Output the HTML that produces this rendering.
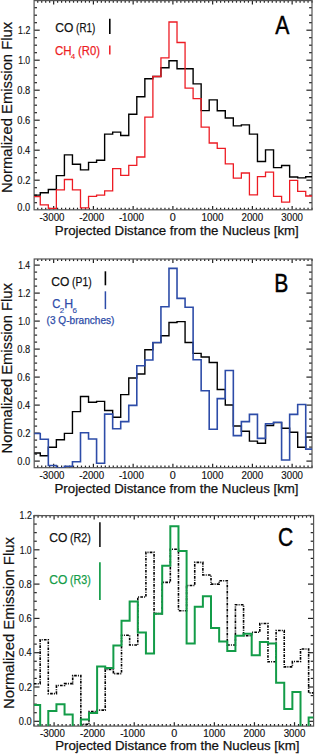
<!DOCTYPE html><html><head><meta charset="utf-8"><style>html,body{margin:0;padding:0;background:#fff;}svg{display:block;}text{font-family:"Liberation Sans", sans-serif;} .tk{stroke:#222;stroke-width:1.2;} .fr{fill:none;stroke:#555;stroke-width:1.2;}</style></head><body>
<svg width="315" height="754" viewBox="0 0 315 754">
<rect width="315" height="754" fill="#fff"/>
<clipPath id="clipA"><rect x="34.1" y="0.6" width="277.9" height="209.20000000000002"/></clipPath>
<line x1="34.1" y1="202.70" x2="37.0" y2="202.70" class="tk"/>
<line x1="312.0" y1="202.70" x2="309.1" y2="202.70" class="tk"/>
<line x1="34.1" y1="195.20" x2="37.0" y2="195.20" class="tk"/>
<line x1="312.0" y1="195.20" x2="309.1" y2="195.20" class="tk"/>
<line x1="34.1" y1="187.70" x2="37.0" y2="187.70" class="tk"/>
<line x1="312.0" y1="187.70" x2="309.1" y2="187.70" class="tk"/>
<line x1="34.1" y1="180.20" x2="39.7" y2="180.20" class="tk"/>
<line x1="312.0" y1="180.20" x2="306.4" y2="180.20" class="tk"/>
<line x1="34.1" y1="172.70" x2="37.0" y2="172.70" class="tk"/>
<line x1="312.0" y1="172.70" x2="309.1" y2="172.70" class="tk"/>
<line x1="34.1" y1="165.20" x2="37.0" y2="165.20" class="tk"/>
<line x1="312.0" y1="165.20" x2="309.1" y2="165.20" class="tk"/>
<line x1="34.1" y1="157.70" x2="37.0" y2="157.70" class="tk"/>
<line x1="312.0" y1="157.70" x2="309.1" y2="157.70" class="tk"/>
<line x1="34.1" y1="150.20" x2="39.7" y2="150.20" class="tk"/>
<line x1="312.0" y1="150.20" x2="306.4" y2="150.20" class="tk"/>
<line x1="34.1" y1="142.70" x2="37.0" y2="142.70" class="tk"/>
<line x1="312.0" y1="142.70" x2="309.1" y2="142.70" class="tk"/>
<line x1="34.1" y1="135.20" x2="37.0" y2="135.20" class="tk"/>
<line x1="312.0" y1="135.20" x2="309.1" y2="135.20" class="tk"/>
<line x1="34.1" y1="127.70" x2="37.0" y2="127.70" class="tk"/>
<line x1="312.0" y1="127.70" x2="309.1" y2="127.70" class="tk"/>
<line x1="34.1" y1="120.20" x2="39.7" y2="120.20" class="tk"/>
<line x1="312.0" y1="120.20" x2="306.4" y2="120.20" class="tk"/>
<line x1="34.1" y1="112.70" x2="37.0" y2="112.70" class="tk"/>
<line x1="312.0" y1="112.70" x2="309.1" y2="112.70" class="tk"/>
<line x1="34.1" y1="105.20" x2="37.0" y2="105.20" class="tk"/>
<line x1="312.0" y1="105.20" x2="309.1" y2="105.20" class="tk"/>
<line x1="34.1" y1="97.70" x2="37.0" y2="97.70" class="tk"/>
<line x1="312.0" y1="97.70" x2="309.1" y2="97.70" class="tk"/>
<line x1="34.1" y1="90.20" x2="39.7" y2="90.20" class="tk"/>
<line x1="312.0" y1="90.20" x2="306.4" y2="90.20" class="tk"/>
<line x1="34.1" y1="82.70" x2="37.0" y2="82.70" class="tk"/>
<line x1="312.0" y1="82.70" x2="309.1" y2="82.70" class="tk"/>
<line x1="34.1" y1="75.20" x2="37.0" y2="75.20" class="tk"/>
<line x1="312.0" y1="75.20" x2="309.1" y2="75.20" class="tk"/>
<line x1="34.1" y1="67.70" x2="37.0" y2="67.70" class="tk"/>
<line x1="312.0" y1="67.70" x2="309.1" y2="67.70" class="tk"/>
<line x1="34.1" y1="60.20" x2="39.7" y2="60.20" class="tk"/>
<line x1="312.0" y1="60.20" x2="306.4" y2="60.20" class="tk"/>
<line x1="34.1" y1="52.70" x2="37.0" y2="52.70" class="tk"/>
<line x1="312.0" y1="52.70" x2="309.1" y2="52.70" class="tk"/>
<line x1="34.1" y1="45.20" x2="37.0" y2="45.20" class="tk"/>
<line x1="312.0" y1="45.20" x2="309.1" y2="45.20" class="tk"/>
<line x1="34.1" y1="37.70" x2="37.0" y2="37.70" class="tk"/>
<line x1="312.0" y1="37.70" x2="309.1" y2="37.70" class="tk"/>
<line x1="34.1" y1="30.20" x2="39.7" y2="30.20" class="tk"/>
<line x1="312.0" y1="30.20" x2="306.4" y2="30.20" class="tk"/>
<line x1="34.1" y1="22.70" x2="37.0" y2="22.70" class="tk"/>
<line x1="312.0" y1="22.70" x2="309.1" y2="22.70" class="tk"/>
<line x1="34.1" y1="15.20" x2="37.0" y2="15.20" class="tk"/>
<line x1="312.0" y1="15.20" x2="309.1" y2="15.20" class="tk"/>
<line x1="34.1" y1="7.70" x2="37.0" y2="7.70" class="tk"/>
<line x1="312.0" y1="7.70" x2="309.1" y2="7.70" class="tk"/>
<line x1="37.75" y1="209.8" x2="37.75" y2="207.70000000000002" class="tk"/>
<line x1="37.75" y1="0.6" x2="37.75" y2="2.7" class="tk"/>
<line x1="41.72" y1="209.8" x2="41.72" y2="207.70000000000002" class="tk"/>
<line x1="41.72" y1="0.6" x2="41.72" y2="2.7" class="tk"/>
<line x1="45.70" y1="209.8" x2="45.70" y2="207.70000000000002" class="tk"/>
<line x1="45.70" y1="0.6" x2="45.70" y2="2.7" class="tk"/>
<line x1="49.67" y1="209.8" x2="49.67" y2="207.70000000000002" class="tk"/>
<line x1="49.67" y1="0.6" x2="49.67" y2="2.7" class="tk"/>
<line x1="53.65" y1="209.8" x2="53.65" y2="205.9" class="tk"/>
<line x1="53.65" y1="0.6" x2="53.65" y2="4.5" class="tk"/>
<line x1="57.62" y1="209.8" x2="57.62" y2="207.70000000000002" class="tk"/>
<line x1="57.62" y1="0.6" x2="57.62" y2="2.7" class="tk"/>
<line x1="61.60" y1="209.8" x2="61.60" y2="207.70000000000002" class="tk"/>
<line x1="61.60" y1="0.6" x2="61.60" y2="2.7" class="tk"/>
<line x1="65.58" y1="209.8" x2="65.58" y2="207.70000000000002" class="tk"/>
<line x1="65.58" y1="0.6" x2="65.58" y2="2.7" class="tk"/>
<line x1="69.55" y1="209.8" x2="69.55" y2="207.70000000000002" class="tk"/>
<line x1="69.55" y1="0.6" x2="69.55" y2="2.7" class="tk"/>
<line x1="73.53" y1="209.8" x2="73.53" y2="207.70000000000002" class="tk"/>
<line x1="73.53" y1="0.6" x2="73.53" y2="2.7" class="tk"/>
<line x1="77.50" y1="209.8" x2="77.50" y2="207.70000000000002" class="tk"/>
<line x1="77.50" y1="0.6" x2="77.50" y2="2.7" class="tk"/>
<line x1="81.48" y1="209.8" x2="81.48" y2="207.70000000000002" class="tk"/>
<line x1="81.48" y1="0.6" x2="81.48" y2="2.7" class="tk"/>
<line x1="85.45" y1="209.8" x2="85.45" y2="207.70000000000002" class="tk"/>
<line x1="85.45" y1="0.6" x2="85.45" y2="2.7" class="tk"/>
<line x1="89.43" y1="209.8" x2="89.43" y2="207.70000000000002" class="tk"/>
<line x1="89.43" y1="0.6" x2="89.43" y2="2.7" class="tk"/>
<line x1="93.40" y1="209.8" x2="93.40" y2="205.9" class="tk"/>
<line x1="93.40" y1="0.6" x2="93.40" y2="4.5" class="tk"/>
<line x1="97.38" y1="209.8" x2="97.38" y2="207.70000000000002" class="tk"/>
<line x1="97.38" y1="0.6" x2="97.38" y2="2.7" class="tk"/>
<line x1="101.35" y1="209.8" x2="101.35" y2="207.70000000000002" class="tk"/>
<line x1="101.35" y1="0.6" x2="101.35" y2="2.7" class="tk"/>
<line x1="105.33" y1="209.8" x2="105.33" y2="207.70000000000002" class="tk"/>
<line x1="105.33" y1="0.6" x2="105.33" y2="2.7" class="tk"/>
<line x1="109.30" y1="209.8" x2="109.30" y2="207.70000000000002" class="tk"/>
<line x1="109.30" y1="0.6" x2="109.30" y2="2.7" class="tk"/>
<line x1="113.28" y1="209.8" x2="113.28" y2="207.70000000000002" class="tk"/>
<line x1="113.28" y1="0.6" x2="113.28" y2="2.7" class="tk"/>
<line x1="117.25" y1="209.8" x2="117.25" y2="207.70000000000002" class="tk"/>
<line x1="117.25" y1="0.6" x2="117.25" y2="2.7" class="tk"/>
<line x1="121.22" y1="209.8" x2="121.22" y2="207.70000000000002" class="tk"/>
<line x1="121.22" y1="0.6" x2="121.22" y2="2.7" class="tk"/>
<line x1="125.20" y1="209.8" x2="125.20" y2="207.70000000000002" class="tk"/>
<line x1="125.20" y1="0.6" x2="125.20" y2="2.7" class="tk"/>
<line x1="129.18" y1="209.8" x2="129.18" y2="207.70000000000002" class="tk"/>
<line x1="129.18" y1="0.6" x2="129.18" y2="2.7" class="tk"/>
<line x1="133.15" y1="209.8" x2="133.15" y2="205.9" class="tk"/>
<line x1="133.15" y1="0.6" x2="133.15" y2="4.5" class="tk"/>
<line x1="137.12" y1="209.8" x2="137.12" y2="207.70000000000002" class="tk"/>
<line x1="137.12" y1="0.6" x2="137.12" y2="2.7" class="tk"/>
<line x1="141.10" y1="209.8" x2="141.10" y2="207.70000000000002" class="tk"/>
<line x1="141.10" y1="0.6" x2="141.10" y2="2.7" class="tk"/>
<line x1="145.08" y1="209.8" x2="145.08" y2="207.70000000000002" class="tk"/>
<line x1="145.08" y1="0.6" x2="145.08" y2="2.7" class="tk"/>
<line x1="149.05" y1="209.8" x2="149.05" y2="207.70000000000002" class="tk"/>
<line x1="149.05" y1="0.6" x2="149.05" y2="2.7" class="tk"/>
<line x1="153.03" y1="209.8" x2="153.03" y2="207.70000000000002" class="tk"/>
<line x1="153.03" y1="0.6" x2="153.03" y2="2.7" class="tk"/>
<line x1="157.00" y1="209.8" x2="157.00" y2="207.70000000000002" class="tk"/>
<line x1="157.00" y1="0.6" x2="157.00" y2="2.7" class="tk"/>
<line x1="160.97" y1="209.8" x2="160.97" y2="207.70000000000002" class="tk"/>
<line x1="160.97" y1="0.6" x2="160.97" y2="2.7" class="tk"/>
<line x1="164.95" y1="209.8" x2="164.95" y2="207.70000000000002" class="tk"/>
<line x1="164.95" y1="0.6" x2="164.95" y2="2.7" class="tk"/>
<line x1="168.93" y1="209.8" x2="168.93" y2="207.70000000000002" class="tk"/>
<line x1="168.93" y1="0.6" x2="168.93" y2="2.7" class="tk"/>
<line x1="172.90" y1="209.8" x2="172.90" y2="205.9" class="tk"/>
<line x1="172.90" y1="0.6" x2="172.90" y2="4.5" class="tk"/>
<line x1="176.88" y1="209.8" x2="176.88" y2="207.70000000000002" class="tk"/>
<line x1="176.88" y1="0.6" x2="176.88" y2="2.7" class="tk"/>
<line x1="180.85" y1="209.8" x2="180.85" y2="207.70000000000002" class="tk"/>
<line x1="180.85" y1="0.6" x2="180.85" y2="2.7" class="tk"/>
<line x1="184.83" y1="209.8" x2="184.83" y2="207.70000000000002" class="tk"/>
<line x1="184.83" y1="0.6" x2="184.83" y2="2.7" class="tk"/>
<line x1="188.80" y1="209.8" x2="188.80" y2="207.70000000000002" class="tk"/>
<line x1="188.80" y1="0.6" x2="188.80" y2="2.7" class="tk"/>
<line x1="192.78" y1="209.8" x2="192.78" y2="207.70000000000002" class="tk"/>
<line x1="192.78" y1="0.6" x2="192.78" y2="2.7" class="tk"/>
<line x1="196.75" y1="209.8" x2="196.75" y2="207.70000000000002" class="tk"/>
<line x1="196.75" y1="0.6" x2="196.75" y2="2.7" class="tk"/>
<line x1="200.72" y1="209.8" x2="200.72" y2="207.70000000000002" class="tk"/>
<line x1="200.72" y1="0.6" x2="200.72" y2="2.7" class="tk"/>
<line x1="204.70" y1="209.8" x2="204.70" y2="207.70000000000002" class="tk"/>
<line x1="204.70" y1="0.6" x2="204.70" y2="2.7" class="tk"/>
<line x1="208.68" y1="209.8" x2="208.68" y2="207.70000000000002" class="tk"/>
<line x1="208.68" y1="0.6" x2="208.68" y2="2.7" class="tk"/>
<line x1="212.65" y1="209.8" x2="212.65" y2="205.9" class="tk"/>
<line x1="212.65" y1="0.6" x2="212.65" y2="4.5" class="tk"/>
<line x1="216.62" y1="209.8" x2="216.62" y2="207.70000000000002" class="tk"/>
<line x1="216.62" y1="0.6" x2="216.62" y2="2.7" class="tk"/>
<line x1="220.60" y1="209.8" x2="220.60" y2="207.70000000000002" class="tk"/>
<line x1="220.60" y1="0.6" x2="220.60" y2="2.7" class="tk"/>
<line x1="224.58" y1="209.8" x2="224.58" y2="207.70000000000002" class="tk"/>
<line x1="224.58" y1="0.6" x2="224.58" y2="2.7" class="tk"/>
<line x1="228.55" y1="209.8" x2="228.55" y2="207.70000000000002" class="tk"/>
<line x1="228.55" y1="0.6" x2="228.55" y2="2.7" class="tk"/>
<line x1="232.53" y1="209.8" x2="232.53" y2="207.70000000000002" class="tk"/>
<line x1="232.53" y1="0.6" x2="232.53" y2="2.7" class="tk"/>
<line x1="236.50" y1="209.8" x2="236.50" y2="207.70000000000002" class="tk"/>
<line x1="236.50" y1="0.6" x2="236.50" y2="2.7" class="tk"/>
<line x1="240.48" y1="209.8" x2="240.48" y2="207.70000000000002" class="tk"/>
<line x1="240.48" y1="0.6" x2="240.48" y2="2.7" class="tk"/>
<line x1="244.45" y1="209.8" x2="244.45" y2="207.70000000000002" class="tk"/>
<line x1="244.45" y1="0.6" x2="244.45" y2="2.7" class="tk"/>
<line x1="248.43" y1="209.8" x2="248.43" y2="207.70000000000002" class="tk"/>
<line x1="248.43" y1="0.6" x2="248.43" y2="2.7" class="tk"/>
<line x1="252.40" y1="209.8" x2="252.40" y2="205.9" class="tk"/>
<line x1="252.40" y1="0.6" x2="252.40" y2="4.5" class="tk"/>
<line x1="256.38" y1="209.8" x2="256.38" y2="207.70000000000002" class="tk"/>
<line x1="256.38" y1="0.6" x2="256.38" y2="2.7" class="tk"/>
<line x1="260.35" y1="209.8" x2="260.35" y2="207.70000000000002" class="tk"/>
<line x1="260.35" y1="0.6" x2="260.35" y2="2.7" class="tk"/>
<line x1="264.32" y1="209.8" x2="264.32" y2="207.70000000000002" class="tk"/>
<line x1="264.32" y1="0.6" x2="264.32" y2="2.7" class="tk"/>
<line x1="268.30" y1="209.8" x2="268.30" y2="207.70000000000002" class="tk"/>
<line x1="268.30" y1="0.6" x2="268.30" y2="2.7" class="tk"/>
<line x1="272.27" y1="209.8" x2="272.27" y2="207.70000000000002" class="tk"/>
<line x1="272.27" y1="0.6" x2="272.27" y2="2.7" class="tk"/>
<line x1="276.25" y1="209.8" x2="276.25" y2="207.70000000000002" class="tk"/>
<line x1="276.25" y1="0.6" x2="276.25" y2="2.7" class="tk"/>
<line x1="280.23" y1="209.8" x2="280.23" y2="207.70000000000002" class="tk"/>
<line x1="280.23" y1="0.6" x2="280.23" y2="2.7" class="tk"/>
<line x1="284.20" y1="209.8" x2="284.20" y2="207.70000000000002" class="tk"/>
<line x1="284.20" y1="0.6" x2="284.20" y2="2.7" class="tk"/>
<line x1="288.18" y1="209.8" x2="288.18" y2="207.70000000000002" class="tk"/>
<line x1="288.18" y1="0.6" x2="288.18" y2="2.7" class="tk"/>
<line x1="292.15" y1="209.8" x2="292.15" y2="205.9" class="tk"/>
<line x1="292.15" y1="0.6" x2="292.15" y2="4.5" class="tk"/>
<line x1="296.12" y1="209.8" x2="296.12" y2="207.70000000000002" class="tk"/>
<line x1="296.12" y1="0.6" x2="296.12" y2="2.7" class="tk"/>
<line x1="300.10" y1="209.8" x2="300.10" y2="207.70000000000002" class="tk"/>
<line x1="300.10" y1="0.6" x2="300.10" y2="2.7" class="tk"/>
<line x1="304.08" y1="209.8" x2="304.08" y2="207.70000000000002" class="tk"/>
<line x1="304.08" y1="0.6" x2="304.08" y2="2.7" class="tk"/>
<line x1="308.05" y1="209.8" x2="308.05" y2="207.70000000000002" class="tk"/>
<line x1="308.05" y1="0.6" x2="308.05" y2="2.7" class="tk"/>
<line x1="312.02" y1="209.8" x2="312.02" y2="207.70000000000002" class="tk"/>
<line x1="312.02" y1="0.6" x2="312.02" y2="2.7" class="tk"/>
<rect x="34.1" y="0.6" width="277.9" height="209.20000000000002" class="fr"/>
<g clip-path="url(#clipA)">
<path d="M34.10,195.10 L40.27,195.10 L40.27,192.70 L48.32,192.70 L48.32,189.50 L56.36,189.50 L56.36,175.60 L64.41,175.60 L64.41,154.90 L72.45,154.90 L72.45,164.20 L80.49,164.20 L80.49,169.90 L88.54,169.90 L88.54,162.40 L96.58,162.40 L96.58,160.30 L104.63,160.30 L104.63,134.10 L112.67,134.10 L112.67,132.10 L120.71,132.10 L120.71,135.50 L128.76,135.50 L128.76,114.30 L136.80,114.30 L136.80,96.70 L144.85,96.70 L144.85,78.80 L152.89,78.80 L152.89,76.50 L160.93,76.50 L160.93,67.70 L168.98,67.70 L168.98,60.70 L177.02,60.70 L177.02,68.70 L185.07,68.70 L185.07,68.70 L193.11,68.70 L193.11,83.90 L201.15,83.90 L201.15,110.60 L209.20,110.60 L209.20,99.90 L217.24,99.90 L217.24,110.70 L225.29,110.70 L225.29,118.00 L233.33,118.00 L233.33,125.90 L241.37,125.90 L241.37,124.90 L249.42,124.90 L249.42,134.10 L257.46,134.10 L257.46,161.50 L265.51,161.50 L265.51,149.90 L273.55,149.90 L273.55,167.60 L281.59,167.60 L281.59,165.50 L289.64,165.50 L289.64,177.00 L297.68,177.00 L297.68,177.90 L305.73,177.90 L305.73,176.70 L312.00,176.70" fill="none" stroke="#000" stroke-width="1.4"/>
<path d="M34.10,196.70 L40.27,196.70 L40.27,204.90 L48.32,204.90 L48.32,208.30 L56.36,208.30 L56.36,189.80 L64.41,189.80 L64.41,179.50 L72.45,179.50 L72.45,189.80 L80.49,189.80 L80.49,207.90 L88.54,207.90 L88.54,196.30 L96.58,196.30 L96.58,195.20 L104.63,195.20 L104.63,190.80 L112.67,190.80 L112.67,168.60 L120.71,168.60 L120.71,175.30 L128.76,175.30 L128.76,165.30 L136.80,165.30 L136.80,157.00 L144.85,157.00 L144.85,117.10 L152.89,117.10 L152.89,76.50 L160.93,76.50 L160.93,57.90 L168.98,57.90 L168.98,22.00 L177.02,22.00 L177.02,42.50 L185.07,42.50 L185.07,88.10 L193.11,88.10 L193.11,98.60 L201.15,98.60 L201.15,127.10 L209.20,127.10 L209.20,143.00 L217.24,143.00 L217.24,148.30 L225.29,148.30 L225.29,163.80 L233.33,163.80 L233.33,178.10 L241.37,178.10 L241.37,173.00 L249.42,173.00 L249.42,194.90 L257.46,194.90 L257.46,176.60 L265.51,176.60 L265.51,172.10 L273.55,172.10 L273.55,196.30 L281.59,196.30 L281.59,202.10 L289.64,202.10 L289.64,180.30 L297.68,180.30 L297.68,191.40 L305.73,191.40 L305.73,196.00 L312.00,196.00" fill="none" stroke="#ed1c24" stroke-width="1.3"/>
</g>
<clipPath id="clipB"><rect x="34.2" y="259.0" width="277.8" height="208.7"/></clipPath>
<line x1="34.2" y1="461.10" x2="39.800000000000004" y2="461.10" class="tk"/>
<line x1="312.0" y1="461.10" x2="306.4" y2="461.10" class="tk"/>
<line x1="34.2" y1="454.10" x2="37.1" y2="454.10" class="tk"/>
<line x1="312.0" y1="454.10" x2="309.1" y2="454.10" class="tk"/>
<line x1="34.2" y1="447.10" x2="37.1" y2="447.10" class="tk"/>
<line x1="312.0" y1="447.10" x2="309.1" y2="447.10" class="tk"/>
<line x1="34.2" y1="440.10" x2="37.1" y2="440.10" class="tk"/>
<line x1="312.0" y1="440.10" x2="309.1" y2="440.10" class="tk"/>
<line x1="34.2" y1="433.10" x2="39.800000000000004" y2="433.10" class="tk"/>
<line x1="312.0" y1="433.10" x2="306.4" y2="433.10" class="tk"/>
<line x1="34.2" y1="426.10" x2="37.1" y2="426.10" class="tk"/>
<line x1="312.0" y1="426.10" x2="309.1" y2="426.10" class="tk"/>
<line x1="34.2" y1="419.10" x2="37.1" y2="419.10" class="tk"/>
<line x1="312.0" y1="419.10" x2="309.1" y2="419.10" class="tk"/>
<line x1="34.2" y1="412.10" x2="37.1" y2="412.10" class="tk"/>
<line x1="312.0" y1="412.10" x2="309.1" y2="412.10" class="tk"/>
<line x1="34.2" y1="405.10" x2="39.800000000000004" y2="405.10" class="tk"/>
<line x1="312.0" y1="405.10" x2="306.4" y2="405.10" class="tk"/>
<line x1="34.2" y1="398.10" x2="37.1" y2="398.10" class="tk"/>
<line x1="312.0" y1="398.10" x2="309.1" y2="398.10" class="tk"/>
<line x1="34.2" y1="391.10" x2="37.1" y2="391.10" class="tk"/>
<line x1="312.0" y1="391.10" x2="309.1" y2="391.10" class="tk"/>
<line x1="34.2" y1="384.10" x2="37.1" y2="384.10" class="tk"/>
<line x1="312.0" y1="384.10" x2="309.1" y2="384.10" class="tk"/>
<line x1="34.2" y1="377.10" x2="39.800000000000004" y2="377.10" class="tk"/>
<line x1="312.0" y1="377.10" x2="306.4" y2="377.10" class="tk"/>
<line x1="34.2" y1="370.10" x2="37.1" y2="370.10" class="tk"/>
<line x1="312.0" y1="370.10" x2="309.1" y2="370.10" class="tk"/>
<line x1="34.2" y1="363.10" x2="37.1" y2="363.10" class="tk"/>
<line x1="312.0" y1="363.10" x2="309.1" y2="363.10" class="tk"/>
<line x1="34.2" y1="356.10" x2="37.1" y2="356.10" class="tk"/>
<line x1="312.0" y1="356.10" x2="309.1" y2="356.10" class="tk"/>
<line x1="34.2" y1="349.10" x2="39.800000000000004" y2="349.10" class="tk"/>
<line x1="312.0" y1="349.10" x2="306.4" y2="349.10" class="tk"/>
<line x1="34.2" y1="342.10" x2="37.1" y2="342.10" class="tk"/>
<line x1="312.0" y1="342.10" x2="309.1" y2="342.10" class="tk"/>
<line x1="34.2" y1="335.10" x2="37.1" y2="335.10" class="tk"/>
<line x1="312.0" y1="335.10" x2="309.1" y2="335.10" class="tk"/>
<line x1="34.2" y1="328.10" x2="37.1" y2="328.10" class="tk"/>
<line x1="312.0" y1="328.10" x2="309.1" y2="328.10" class="tk"/>
<line x1="34.2" y1="321.10" x2="39.800000000000004" y2="321.10" class="tk"/>
<line x1="312.0" y1="321.10" x2="306.4" y2="321.10" class="tk"/>
<line x1="34.2" y1="314.10" x2="37.1" y2="314.10" class="tk"/>
<line x1="312.0" y1="314.10" x2="309.1" y2="314.10" class="tk"/>
<line x1="34.2" y1="307.10" x2="37.1" y2="307.10" class="tk"/>
<line x1="312.0" y1="307.10" x2="309.1" y2="307.10" class="tk"/>
<line x1="34.2" y1="300.10" x2="37.1" y2="300.10" class="tk"/>
<line x1="312.0" y1="300.10" x2="309.1" y2="300.10" class="tk"/>
<line x1="34.2" y1="293.10" x2="39.800000000000004" y2="293.10" class="tk"/>
<line x1="312.0" y1="293.10" x2="306.4" y2="293.10" class="tk"/>
<line x1="34.2" y1="286.10" x2="37.1" y2="286.10" class="tk"/>
<line x1="312.0" y1="286.10" x2="309.1" y2="286.10" class="tk"/>
<line x1="34.2" y1="279.10" x2="37.1" y2="279.10" class="tk"/>
<line x1="312.0" y1="279.10" x2="309.1" y2="279.10" class="tk"/>
<line x1="34.2" y1="272.10" x2="37.1" y2="272.10" class="tk"/>
<line x1="312.0" y1="272.10" x2="309.1" y2="272.10" class="tk"/>
<line x1="34.2" y1="265.10" x2="39.800000000000004" y2="265.10" class="tk"/>
<line x1="312.0" y1="265.10" x2="306.4" y2="265.10" class="tk"/>
<line x1="37.75" y1="467.7" x2="37.75" y2="465.59999999999997" class="tk"/>
<line x1="37.75" y1="259.0" x2="37.75" y2="261.1" class="tk"/>
<line x1="41.72" y1="467.7" x2="41.72" y2="465.59999999999997" class="tk"/>
<line x1="41.72" y1="259.0" x2="41.72" y2="261.1" class="tk"/>
<line x1="45.70" y1="467.7" x2="45.70" y2="465.59999999999997" class="tk"/>
<line x1="45.70" y1="259.0" x2="45.70" y2="261.1" class="tk"/>
<line x1="49.67" y1="467.7" x2="49.67" y2="465.59999999999997" class="tk"/>
<line x1="49.67" y1="259.0" x2="49.67" y2="261.1" class="tk"/>
<line x1="53.65" y1="467.7" x2="53.65" y2="463.8" class="tk"/>
<line x1="53.65" y1="259.0" x2="53.65" y2="262.9" class="tk"/>
<line x1="57.62" y1="467.7" x2="57.62" y2="465.59999999999997" class="tk"/>
<line x1="57.62" y1="259.0" x2="57.62" y2="261.1" class="tk"/>
<line x1="61.60" y1="467.7" x2="61.60" y2="465.59999999999997" class="tk"/>
<line x1="61.60" y1="259.0" x2="61.60" y2="261.1" class="tk"/>
<line x1="65.58" y1="467.7" x2="65.58" y2="465.59999999999997" class="tk"/>
<line x1="65.58" y1="259.0" x2="65.58" y2="261.1" class="tk"/>
<line x1="69.55" y1="467.7" x2="69.55" y2="465.59999999999997" class="tk"/>
<line x1="69.55" y1="259.0" x2="69.55" y2="261.1" class="tk"/>
<line x1="73.53" y1="467.7" x2="73.53" y2="465.59999999999997" class="tk"/>
<line x1="73.53" y1="259.0" x2="73.53" y2="261.1" class="tk"/>
<line x1="77.50" y1="467.7" x2="77.50" y2="465.59999999999997" class="tk"/>
<line x1="77.50" y1="259.0" x2="77.50" y2="261.1" class="tk"/>
<line x1="81.48" y1="467.7" x2="81.48" y2="465.59999999999997" class="tk"/>
<line x1="81.48" y1="259.0" x2="81.48" y2="261.1" class="tk"/>
<line x1="85.45" y1="467.7" x2="85.45" y2="465.59999999999997" class="tk"/>
<line x1="85.45" y1="259.0" x2="85.45" y2="261.1" class="tk"/>
<line x1="89.43" y1="467.7" x2="89.43" y2="465.59999999999997" class="tk"/>
<line x1="89.43" y1="259.0" x2="89.43" y2="261.1" class="tk"/>
<line x1="93.40" y1="467.7" x2="93.40" y2="463.8" class="tk"/>
<line x1="93.40" y1="259.0" x2="93.40" y2="262.9" class="tk"/>
<line x1="97.38" y1="467.7" x2="97.38" y2="465.59999999999997" class="tk"/>
<line x1="97.38" y1="259.0" x2="97.38" y2="261.1" class="tk"/>
<line x1="101.35" y1="467.7" x2="101.35" y2="465.59999999999997" class="tk"/>
<line x1="101.35" y1="259.0" x2="101.35" y2="261.1" class="tk"/>
<line x1="105.33" y1="467.7" x2="105.33" y2="465.59999999999997" class="tk"/>
<line x1="105.33" y1="259.0" x2="105.33" y2="261.1" class="tk"/>
<line x1="109.30" y1="467.7" x2="109.30" y2="465.59999999999997" class="tk"/>
<line x1="109.30" y1="259.0" x2="109.30" y2="261.1" class="tk"/>
<line x1="113.28" y1="467.7" x2="113.28" y2="465.59999999999997" class="tk"/>
<line x1="113.28" y1="259.0" x2="113.28" y2="261.1" class="tk"/>
<line x1="117.25" y1="467.7" x2="117.25" y2="465.59999999999997" class="tk"/>
<line x1="117.25" y1="259.0" x2="117.25" y2="261.1" class="tk"/>
<line x1="121.22" y1="467.7" x2="121.22" y2="465.59999999999997" class="tk"/>
<line x1="121.22" y1="259.0" x2="121.22" y2="261.1" class="tk"/>
<line x1="125.20" y1="467.7" x2="125.20" y2="465.59999999999997" class="tk"/>
<line x1="125.20" y1="259.0" x2="125.20" y2="261.1" class="tk"/>
<line x1="129.18" y1="467.7" x2="129.18" y2="465.59999999999997" class="tk"/>
<line x1="129.18" y1="259.0" x2="129.18" y2="261.1" class="tk"/>
<line x1="133.15" y1="467.7" x2="133.15" y2="463.8" class="tk"/>
<line x1="133.15" y1="259.0" x2="133.15" y2="262.9" class="tk"/>
<line x1="137.12" y1="467.7" x2="137.12" y2="465.59999999999997" class="tk"/>
<line x1="137.12" y1="259.0" x2="137.12" y2="261.1" class="tk"/>
<line x1="141.10" y1="467.7" x2="141.10" y2="465.59999999999997" class="tk"/>
<line x1="141.10" y1="259.0" x2="141.10" y2="261.1" class="tk"/>
<line x1="145.08" y1="467.7" x2="145.08" y2="465.59999999999997" class="tk"/>
<line x1="145.08" y1="259.0" x2="145.08" y2="261.1" class="tk"/>
<line x1="149.05" y1="467.7" x2="149.05" y2="465.59999999999997" class="tk"/>
<line x1="149.05" y1="259.0" x2="149.05" y2="261.1" class="tk"/>
<line x1="153.03" y1="467.7" x2="153.03" y2="465.59999999999997" class="tk"/>
<line x1="153.03" y1="259.0" x2="153.03" y2="261.1" class="tk"/>
<line x1="157.00" y1="467.7" x2="157.00" y2="465.59999999999997" class="tk"/>
<line x1="157.00" y1="259.0" x2="157.00" y2="261.1" class="tk"/>
<line x1="160.97" y1="467.7" x2="160.97" y2="465.59999999999997" class="tk"/>
<line x1="160.97" y1="259.0" x2="160.97" y2="261.1" class="tk"/>
<line x1="164.95" y1="467.7" x2="164.95" y2="465.59999999999997" class="tk"/>
<line x1="164.95" y1="259.0" x2="164.95" y2="261.1" class="tk"/>
<line x1="168.93" y1="467.7" x2="168.93" y2="465.59999999999997" class="tk"/>
<line x1="168.93" y1="259.0" x2="168.93" y2="261.1" class="tk"/>
<line x1="172.90" y1="467.7" x2="172.90" y2="463.8" class="tk"/>
<line x1="172.90" y1="259.0" x2="172.90" y2="262.9" class="tk"/>
<line x1="176.88" y1="467.7" x2="176.88" y2="465.59999999999997" class="tk"/>
<line x1="176.88" y1="259.0" x2="176.88" y2="261.1" class="tk"/>
<line x1="180.85" y1="467.7" x2="180.85" y2="465.59999999999997" class="tk"/>
<line x1="180.85" y1="259.0" x2="180.85" y2="261.1" class="tk"/>
<line x1="184.83" y1="467.7" x2="184.83" y2="465.59999999999997" class="tk"/>
<line x1="184.83" y1="259.0" x2="184.83" y2="261.1" class="tk"/>
<line x1="188.80" y1="467.7" x2="188.80" y2="465.59999999999997" class="tk"/>
<line x1="188.80" y1="259.0" x2="188.80" y2="261.1" class="tk"/>
<line x1="192.78" y1="467.7" x2="192.78" y2="465.59999999999997" class="tk"/>
<line x1="192.78" y1="259.0" x2="192.78" y2="261.1" class="tk"/>
<line x1="196.75" y1="467.7" x2="196.75" y2="465.59999999999997" class="tk"/>
<line x1="196.75" y1="259.0" x2="196.75" y2="261.1" class="tk"/>
<line x1="200.72" y1="467.7" x2="200.72" y2="465.59999999999997" class="tk"/>
<line x1="200.72" y1="259.0" x2="200.72" y2="261.1" class="tk"/>
<line x1="204.70" y1="467.7" x2="204.70" y2="465.59999999999997" class="tk"/>
<line x1="204.70" y1="259.0" x2="204.70" y2="261.1" class="tk"/>
<line x1="208.68" y1="467.7" x2="208.68" y2="465.59999999999997" class="tk"/>
<line x1="208.68" y1="259.0" x2="208.68" y2="261.1" class="tk"/>
<line x1="212.65" y1="467.7" x2="212.65" y2="463.8" class="tk"/>
<line x1="212.65" y1="259.0" x2="212.65" y2="262.9" class="tk"/>
<line x1="216.62" y1="467.7" x2="216.62" y2="465.59999999999997" class="tk"/>
<line x1="216.62" y1="259.0" x2="216.62" y2="261.1" class="tk"/>
<line x1="220.60" y1="467.7" x2="220.60" y2="465.59999999999997" class="tk"/>
<line x1="220.60" y1="259.0" x2="220.60" y2="261.1" class="tk"/>
<line x1="224.58" y1="467.7" x2="224.58" y2="465.59999999999997" class="tk"/>
<line x1="224.58" y1="259.0" x2="224.58" y2="261.1" class="tk"/>
<line x1="228.55" y1="467.7" x2="228.55" y2="465.59999999999997" class="tk"/>
<line x1="228.55" y1="259.0" x2="228.55" y2="261.1" class="tk"/>
<line x1="232.53" y1="467.7" x2="232.53" y2="465.59999999999997" class="tk"/>
<line x1="232.53" y1="259.0" x2="232.53" y2="261.1" class="tk"/>
<line x1="236.50" y1="467.7" x2="236.50" y2="465.59999999999997" class="tk"/>
<line x1="236.50" y1="259.0" x2="236.50" y2="261.1" class="tk"/>
<line x1="240.48" y1="467.7" x2="240.48" y2="465.59999999999997" class="tk"/>
<line x1="240.48" y1="259.0" x2="240.48" y2="261.1" class="tk"/>
<line x1="244.45" y1="467.7" x2="244.45" y2="465.59999999999997" class="tk"/>
<line x1="244.45" y1="259.0" x2="244.45" y2="261.1" class="tk"/>
<line x1="248.43" y1="467.7" x2="248.43" y2="465.59999999999997" class="tk"/>
<line x1="248.43" y1="259.0" x2="248.43" y2="261.1" class="tk"/>
<line x1="252.40" y1="467.7" x2="252.40" y2="463.8" class="tk"/>
<line x1="252.40" y1="259.0" x2="252.40" y2="262.9" class="tk"/>
<line x1="256.38" y1="467.7" x2="256.38" y2="465.59999999999997" class="tk"/>
<line x1="256.38" y1="259.0" x2="256.38" y2="261.1" class="tk"/>
<line x1="260.35" y1="467.7" x2="260.35" y2="465.59999999999997" class="tk"/>
<line x1="260.35" y1="259.0" x2="260.35" y2="261.1" class="tk"/>
<line x1="264.32" y1="467.7" x2="264.32" y2="465.59999999999997" class="tk"/>
<line x1="264.32" y1="259.0" x2="264.32" y2="261.1" class="tk"/>
<line x1="268.30" y1="467.7" x2="268.30" y2="465.59999999999997" class="tk"/>
<line x1="268.30" y1="259.0" x2="268.30" y2="261.1" class="tk"/>
<line x1="272.27" y1="467.7" x2="272.27" y2="465.59999999999997" class="tk"/>
<line x1="272.27" y1="259.0" x2="272.27" y2="261.1" class="tk"/>
<line x1="276.25" y1="467.7" x2="276.25" y2="465.59999999999997" class="tk"/>
<line x1="276.25" y1="259.0" x2="276.25" y2="261.1" class="tk"/>
<line x1="280.23" y1="467.7" x2="280.23" y2="465.59999999999997" class="tk"/>
<line x1="280.23" y1="259.0" x2="280.23" y2="261.1" class="tk"/>
<line x1="284.20" y1="467.7" x2="284.20" y2="465.59999999999997" class="tk"/>
<line x1="284.20" y1="259.0" x2="284.20" y2="261.1" class="tk"/>
<line x1="288.18" y1="467.7" x2="288.18" y2="465.59999999999997" class="tk"/>
<line x1="288.18" y1="259.0" x2="288.18" y2="261.1" class="tk"/>
<line x1="292.15" y1="467.7" x2="292.15" y2="463.8" class="tk"/>
<line x1="292.15" y1="259.0" x2="292.15" y2="262.9" class="tk"/>
<line x1="296.12" y1="467.7" x2="296.12" y2="465.59999999999997" class="tk"/>
<line x1="296.12" y1="259.0" x2="296.12" y2="261.1" class="tk"/>
<line x1="300.10" y1="467.7" x2="300.10" y2="465.59999999999997" class="tk"/>
<line x1="300.10" y1="259.0" x2="300.10" y2="261.1" class="tk"/>
<line x1="304.08" y1="467.7" x2="304.08" y2="465.59999999999997" class="tk"/>
<line x1="304.08" y1="259.0" x2="304.08" y2="261.1" class="tk"/>
<line x1="308.05" y1="467.7" x2="308.05" y2="465.59999999999997" class="tk"/>
<line x1="308.05" y1="259.0" x2="308.05" y2="261.1" class="tk"/>
<line x1="312.02" y1="467.7" x2="312.02" y2="465.59999999999997" class="tk"/>
<line x1="312.02" y1="259.0" x2="312.02" y2="261.1" class="tk"/>
<rect x="34.2" y="259.0" width="277.8" height="208.7" class="fr"/>
<g clip-path="url(#clipB)">
<path d="M34.20,453.00 L40.27,453.00 L40.27,455.80 L48.32,455.80 L48.32,447.30 L56.36,447.30 L56.36,439.80 L64.41,439.80 L64.41,433.40 L72.45,433.40 L72.45,411.60 L80.49,411.60 L80.49,396.50 L88.54,396.50 L88.54,402.20 L96.58,402.20 L96.58,401.40 L104.63,401.40 L104.63,410.50 L112.67,410.50 L112.67,417.20 L120.71,417.20 L120.71,394.60 L128.76,394.60 L128.76,378.00 L136.80,378.00 L136.80,374.00 L144.85,374.00 L144.85,349.80 L152.89,349.80 L152.89,342.60 L160.93,342.60 L160.93,335.70 L168.98,335.70 L168.98,322.50 L177.02,322.50 L177.02,321.60 L185.07,321.60 L185.07,342.50 L193.11,342.50 L193.11,353.40 L201.15,353.40 L201.15,357.00 L209.20,357.00 L209.20,362.50 L217.24,362.50 L217.24,389.50 L225.29,389.50 L225.29,405.00 L233.33,405.00 L233.33,426.00 L241.37,426.00 L241.37,431.30 L249.42,431.30 L249.42,441.10 L257.46,441.10 L257.46,443.30 L265.51,443.30 L265.51,425.50 L273.55,425.50 L273.55,422.60 L281.59,422.60 L281.59,428.20 L289.64,428.20 L289.64,432.20 L297.68,432.20 L297.68,447.30 L305.73,447.30 L305.73,437.00 L312.00,437.00" fill="none" stroke="#000" stroke-width="1.4"/>
<path d="M34.20,433.50 L40.27,433.50 L40.27,439.30 L48.32,439.30 L48.32,465.50 L56.36,465.50 L56.36,468.00 L64.41,468.00 L64.41,466.30 L72.45,466.30 L72.45,461.70 L80.49,461.70 L80.49,432.70 L88.54,432.70 L88.54,439.00 L96.58,439.00 L96.58,463.30 L104.63,463.30 L104.63,414.10 L112.67,414.10 L112.67,428.80 L120.71,428.80 L120.71,421.60 L128.76,421.60 L128.76,405.40 L136.80,405.40 L136.80,365.70 L144.85,365.70 L144.85,360.00 L152.89,360.00 L152.89,342.50 L160.93,342.50 L160.93,306.70 L168.98,306.70 L168.98,268.40 L177.02,268.40 L177.02,298.40 L185.07,298.40 L185.07,307.30 L193.11,307.30 L193.11,359.80 L201.15,359.80 L201.15,390.80 L209.20,390.80 L209.20,429.20 L217.24,429.20 L217.24,398.60 L225.29,398.60 L225.29,370.50 L233.33,370.50 L233.33,435.60 L241.37,435.60 L241.37,421.60 L249.42,421.60 L249.42,414.40 L257.46,414.40 L257.46,438.40 L265.51,438.40 L265.51,423.80 L273.55,423.80 L273.55,422.30 L281.59,422.30 L281.59,460.00 L289.64,460.00 L289.64,414.40 L297.68,414.40 L297.68,404.50 L305.73,404.50 L305.73,449.10 L312.00,449.10" fill="none" stroke="#2d4ca8" stroke-width="1.6"/>
</g>
<clipPath id="clipC"><rect x="33.9" y="515.6" width="279.70000000000005" height="210.5"/></clipPath>
<line x1="33.9" y1="721.30" x2="39.5" y2="721.30" class="tk"/>
<line x1="313.6" y1="721.30" x2="308.0" y2="721.30" class="tk"/>
<line x1="33.9" y1="712.72" x2="36.8" y2="712.72" class="tk"/>
<line x1="313.6" y1="712.72" x2="310.70000000000005" y2="712.72" class="tk"/>
<line x1="33.9" y1="704.15" x2="36.8" y2="704.15" class="tk"/>
<line x1="313.6" y1="704.15" x2="310.70000000000005" y2="704.15" class="tk"/>
<line x1="33.9" y1="695.57" x2="36.8" y2="695.57" class="tk"/>
<line x1="313.6" y1="695.57" x2="310.70000000000005" y2="695.57" class="tk"/>
<line x1="33.9" y1="687.00" x2="39.5" y2="687.00" class="tk"/>
<line x1="313.6" y1="687.00" x2="308.0" y2="687.00" class="tk"/>
<line x1="33.9" y1="678.42" x2="36.8" y2="678.42" class="tk"/>
<line x1="313.6" y1="678.42" x2="310.70000000000005" y2="678.42" class="tk"/>
<line x1="33.9" y1="669.85" x2="36.8" y2="669.85" class="tk"/>
<line x1="313.6" y1="669.85" x2="310.70000000000005" y2="669.85" class="tk"/>
<line x1="33.9" y1="661.27" x2="36.8" y2="661.27" class="tk"/>
<line x1="313.6" y1="661.27" x2="310.70000000000005" y2="661.27" class="tk"/>
<line x1="33.9" y1="652.70" x2="39.5" y2="652.70" class="tk"/>
<line x1="313.6" y1="652.70" x2="308.0" y2="652.70" class="tk"/>
<line x1="33.9" y1="644.12" x2="36.8" y2="644.12" class="tk"/>
<line x1="313.6" y1="644.12" x2="310.70000000000005" y2="644.12" class="tk"/>
<line x1="33.9" y1="635.55" x2="36.8" y2="635.55" class="tk"/>
<line x1="313.6" y1="635.55" x2="310.70000000000005" y2="635.55" class="tk"/>
<line x1="33.9" y1="626.97" x2="36.8" y2="626.97" class="tk"/>
<line x1="313.6" y1="626.97" x2="310.70000000000005" y2="626.97" class="tk"/>
<line x1="33.9" y1="618.40" x2="39.5" y2="618.40" class="tk"/>
<line x1="313.6" y1="618.40" x2="308.0" y2="618.40" class="tk"/>
<line x1="33.9" y1="609.82" x2="36.8" y2="609.82" class="tk"/>
<line x1="313.6" y1="609.82" x2="310.70000000000005" y2="609.82" class="tk"/>
<line x1="33.9" y1="601.25" x2="36.8" y2="601.25" class="tk"/>
<line x1="313.6" y1="601.25" x2="310.70000000000005" y2="601.25" class="tk"/>
<line x1="33.9" y1="592.67" x2="36.8" y2="592.67" class="tk"/>
<line x1="313.6" y1="592.67" x2="310.70000000000005" y2="592.67" class="tk"/>
<line x1="33.9" y1="584.10" x2="39.5" y2="584.10" class="tk"/>
<line x1="313.6" y1="584.10" x2="308.0" y2="584.10" class="tk"/>
<line x1="33.9" y1="575.52" x2="36.8" y2="575.52" class="tk"/>
<line x1="313.6" y1="575.52" x2="310.70000000000005" y2="575.52" class="tk"/>
<line x1="33.9" y1="566.95" x2="36.8" y2="566.95" class="tk"/>
<line x1="313.6" y1="566.95" x2="310.70000000000005" y2="566.95" class="tk"/>
<line x1="33.9" y1="558.38" x2="36.8" y2="558.38" class="tk"/>
<line x1="313.6" y1="558.38" x2="310.70000000000005" y2="558.38" class="tk"/>
<line x1="33.9" y1="549.80" x2="39.5" y2="549.80" class="tk"/>
<line x1="313.6" y1="549.80" x2="308.0" y2="549.80" class="tk"/>
<line x1="33.9" y1="541.22" x2="36.8" y2="541.22" class="tk"/>
<line x1="313.6" y1="541.22" x2="310.70000000000005" y2="541.22" class="tk"/>
<line x1="33.9" y1="532.65" x2="36.8" y2="532.65" class="tk"/>
<line x1="313.6" y1="532.65" x2="310.70000000000005" y2="532.65" class="tk"/>
<line x1="33.9" y1="524.07" x2="36.8" y2="524.07" class="tk"/>
<line x1="313.6" y1="524.07" x2="310.70000000000005" y2="524.07" class="tk"/>
<line x1="33.9" y1="515.50" x2="39.5" y2="515.50" class="tk"/>
<line x1="313.6" y1="515.50" x2="308.0" y2="515.50" class="tk"/>
<line x1="34.06" y1="726.1" x2="34.06" y2="724.0" class="tk"/>
<line x1="34.06" y1="515.6" x2="34.06" y2="517.7" class="tk"/>
<line x1="38.06" y1="726.1" x2="38.06" y2="724.0" class="tk"/>
<line x1="38.06" y1="515.6" x2="38.06" y2="517.7" class="tk"/>
<line x1="42.07" y1="726.1" x2="42.07" y2="724.0" class="tk"/>
<line x1="42.07" y1="515.6" x2="42.07" y2="517.7" class="tk"/>
<line x1="46.08" y1="726.1" x2="46.08" y2="724.0" class="tk"/>
<line x1="46.08" y1="515.6" x2="46.08" y2="517.7" class="tk"/>
<line x1="50.08" y1="726.1" x2="50.08" y2="724.0" class="tk"/>
<line x1="50.08" y1="515.6" x2="50.08" y2="517.7" class="tk"/>
<line x1="54.09" y1="726.1" x2="54.09" y2="722.2" class="tk"/>
<line x1="54.09" y1="515.6" x2="54.09" y2="519.5" class="tk"/>
<line x1="58.10" y1="726.1" x2="58.10" y2="724.0" class="tk"/>
<line x1="58.10" y1="515.6" x2="58.10" y2="517.7" class="tk"/>
<line x1="62.10" y1="726.1" x2="62.10" y2="724.0" class="tk"/>
<line x1="62.10" y1="515.6" x2="62.10" y2="517.7" class="tk"/>
<line x1="66.11" y1="726.1" x2="66.11" y2="724.0" class="tk"/>
<line x1="66.11" y1="515.6" x2="66.11" y2="517.7" class="tk"/>
<line x1="70.12" y1="726.1" x2="70.12" y2="724.0" class="tk"/>
<line x1="70.12" y1="515.6" x2="70.12" y2="517.7" class="tk"/>
<line x1="74.13" y1="726.1" x2="74.13" y2="724.0" class="tk"/>
<line x1="74.13" y1="515.6" x2="74.13" y2="517.7" class="tk"/>
<line x1="78.13" y1="726.1" x2="78.13" y2="724.0" class="tk"/>
<line x1="78.13" y1="515.6" x2="78.13" y2="517.7" class="tk"/>
<line x1="82.14" y1="726.1" x2="82.14" y2="724.0" class="tk"/>
<line x1="82.14" y1="515.6" x2="82.14" y2="517.7" class="tk"/>
<line x1="86.15" y1="726.1" x2="86.15" y2="724.0" class="tk"/>
<line x1="86.15" y1="515.6" x2="86.15" y2="517.7" class="tk"/>
<line x1="90.15" y1="726.1" x2="90.15" y2="724.0" class="tk"/>
<line x1="90.15" y1="515.6" x2="90.15" y2="517.7" class="tk"/>
<line x1="94.16" y1="726.1" x2="94.16" y2="722.2" class="tk"/>
<line x1="94.16" y1="515.6" x2="94.16" y2="519.5" class="tk"/>
<line x1="98.17" y1="726.1" x2="98.17" y2="724.0" class="tk"/>
<line x1="98.17" y1="515.6" x2="98.17" y2="517.7" class="tk"/>
<line x1="102.17" y1="726.1" x2="102.17" y2="724.0" class="tk"/>
<line x1="102.17" y1="515.6" x2="102.17" y2="517.7" class="tk"/>
<line x1="106.18" y1="726.1" x2="106.18" y2="724.0" class="tk"/>
<line x1="106.18" y1="515.6" x2="106.18" y2="517.7" class="tk"/>
<line x1="110.19" y1="726.1" x2="110.19" y2="724.0" class="tk"/>
<line x1="110.19" y1="515.6" x2="110.19" y2="517.7" class="tk"/>
<line x1="114.20" y1="726.1" x2="114.20" y2="724.0" class="tk"/>
<line x1="114.20" y1="515.6" x2="114.20" y2="517.7" class="tk"/>
<line x1="118.20" y1="726.1" x2="118.20" y2="724.0" class="tk"/>
<line x1="118.20" y1="515.6" x2="118.20" y2="517.7" class="tk"/>
<line x1="122.21" y1="726.1" x2="122.21" y2="724.0" class="tk"/>
<line x1="122.21" y1="515.6" x2="122.21" y2="517.7" class="tk"/>
<line x1="126.22" y1="726.1" x2="126.22" y2="724.0" class="tk"/>
<line x1="126.22" y1="515.6" x2="126.22" y2="517.7" class="tk"/>
<line x1="130.22" y1="726.1" x2="130.22" y2="724.0" class="tk"/>
<line x1="130.22" y1="515.6" x2="130.22" y2="517.7" class="tk"/>
<line x1="134.23" y1="726.1" x2="134.23" y2="722.2" class="tk"/>
<line x1="134.23" y1="515.6" x2="134.23" y2="519.5" class="tk"/>
<line x1="138.24" y1="726.1" x2="138.24" y2="724.0" class="tk"/>
<line x1="138.24" y1="515.6" x2="138.24" y2="517.7" class="tk"/>
<line x1="142.24" y1="726.1" x2="142.24" y2="724.0" class="tk"/>
<line x1="142.24" y1="515.6" x2="142.24" y2="517.7" class="tk"/>
<line x1="146.25" y1="726.1" x2="146.25" y2="724.0" class="tk"/>
<line x1="146.25" y1="515.6" x2="146.25" y2="517.7" class="tk"/>
<line x1="150.26" y1="726.1" x2="150.26" y2="724.0" class="tk"/>
<line x1="150.26" y1="515.6" x2="150.26" y2="517.7" class="tk"/>
<line x1="154.27" y1="726.1" x2="154.27" y2="724.0" class="tk"/>
<line x1="154.27" y1="515.6" x2="154.27" y2="517.7" class="tk"/>
<line x1="158.27" y1="726.1" x2="158.27" y2="724.0" class="tk"/>
<line x1="158.27" y1="515.6" x2="158.27" y2="517.7" class="tk"/>
<line x1="162.28" y1="726.1" x2="162.28" y2="724.0" class="tk"/>
<line x1="162.28" y1="515.6" x2="162.28" y2="517.7" class="tk"/>
<line x1="166.29" y1="726.1" x2="166.29" y2="724.0" class="tk"/>
<line x1="166.29" y1="515.6" x2="166.29" y2="517.7" class="tk"/>
<line x1="170.29" y1="726.1" x2="170.29" y2="724.0" class="tk"/>
<line x1="170.29" y1="515.6" x2="170.29" y2="517.7" class="tk"/>
<line x1="174.30" y1="726.1" x2="174.30" y2="722.2" class="tk"/>
<line x1="174.30" y1="515.6" x2="174.30" y2="519.5" class="tk"/>
<line x1="178.31" y1="726.1" x2="178.31" y2="724.0" class="tk"/>
<line x1="178.31" y1="515.6" x2="178.31" y2="517.7" class="tk"/>
<line x1="182.31" y1="726.1" x2="182.31" y2="724.0" class="tk"/>
<line x1="182.31" y1="515.6" x2="182.31" y2="517.7" class="tk"/>
<line x1="186.32" y1="726.1" x2="186.32" y2="724.0" class="tk"/>
<line x1="186.32" y1="515.6" x2="186.32" y2="517.7" class="tk"/>
<line x1="190.33" y1="726.1" x2="190.33" y2="724.0" class="tk"/>
<line x1="190.33" y1="515.6" x2="190.33" y2="517.7" class="tk"/>
<line x1="194.34" y1="726.1" x2="194.34" y2="724.0" class="tk"/>
<line x1="194.34" y1="515.6" x2="194.34" y2="517.7" class="tk"/>
<line x1="198.34" y1="726.1" x2="198.34" y2="724.0" class="tk"/>
<line x1="198.34" y1="515.6" x2="198.34" y2="517.7" class="tk"/>
<line x1="202.35" y1="726.1" x2="202.35" y2="724.0" class="tk"/>
<line x1="202.35" y1="515.6" x2="202.35" y2="517.7" class="tk"/>
<line x1="206.36" y1="726.1" x2="206.36" y2="724.0" class="tk"/>
<line x1="206.36" y1="515.6" x2="206.36" y2="517.7" class="tk"/>
<line x1="210.36" y1="726.1" x2="210.36" y2="724.0" class="tk"/>
<line x1="210.36" y1="515.6" x2="210.36" y2="517.7" class="tk"/>
<line x1="214.37" y1="726.1" x2="214.37" y2="722.2" class="tk"/>
<line x1="214.37" y1="515.6" x2="214.37" y2="519.5" class="tk"/>
<line x1="218.38" y1="726.1" x2="218.38" y2="724.0" class="tk"/>
<line x1="218.38" y1="515.6" x2="218.38" y2="517.7" class="tk"/>
<line x1="222.38" y1="726.1" x2="222.38" y2="724.0" class="tk"/>
<line x1="222.38" y1="515.6" x2="222.38" y2="517.7" class="tk"/>
<line x1="226.39" y1="726.1" x2="226.39" y2="724.0" class="tk"/>
<line x1="226.39" y1="515.6" x2="226.39" y2="517.7" class="tk"/>
<line x1="230.40" y1="726.1" x2="230.40" y2="724.0" class="tk"/>
<line x1="230.40" y1="515.6" x2="230.40" y2="517.7" class="tk"/>
<line x1="234.41" y1="726.1" x2="234.41" y2="724.0" class="tk"/>
<line x1="234.41" y1="515.6" x2="234.41" y2="517.7" class="tk"/>
<line x1="238.41" y1="726.1" x2="238.41" y2="724.0" class="tk"/>
<line x1="238.41" y1="515.6" x2="238.41" y2="517.7" class="tk"/>
<line x1="242.42" y1="726.1" x2="242.42" y2="724.0" class="tk"/>
<line x1="242.42" y1="515.6" x2="242.42" y2="517.7" class="tk"/>
<line x1="246.43" y1="726.1" x2="246.43" y2="724.0" class="tk"/>
<line x1="246.43" y1="515.6" x2="246.43" y2="517.7" class="tk"/>
<line x1="250.43" y1="726.1" x2="250.43" y2="724.0" class="tk"/>
<line x1="250.43" y1="515.6" x2="250.43" y2="517.7" class="tk"/>
<line x1="254.44" y1="726.1" x2="254.44" y2="722.2" class="tk"/>
<line x1="254.44" y1="515.6" x2="254.44" y2="519.5" class="tk"/>
<line x1="258.45" y1="726.1" x2="258.45" y2="724.0" class="tk"/>
<line x1="258.45" y1="515.6" x2="258.45" y2="517.7" class="tk"/>
<line x1="262.45" y1="726.1" x2="262.45" y2="724.0" class="tk"/>
<line x1="262.45" y1="515.6" x2="262.45" y2="517.7" class="tk"/>
<line x1="266.46" y1="726.1" x2="266.46" y2="724.0" class="tk"/>
<line x1="266.46" y1="515.6" x2="266.46" y2="517.7" class="tk"/>
<line x1="270.47" y1="726.1" x2="270.47" y2="724.0" class="tk"/>
<line x1="270.47" y1="515.6" x2="270.47" y2="517.7" class="tk"/>
<line x1="274.48" y1="726.1" x2="274.48" y2="724.0" class="tk"/>
<line x1="274.48" y1="515.6" x2="274.48" y2="517.7" class="tk"/>
<line x1="278.48" y1="726.1" x2="278.48" y2="724.0" class="tk"/>
<line x1="278.48" y1="515.6" x2="278.48" y2="517.7" class="tk"/>
<line x1="282.49" y1="726.1" x2="282.49" y2="724.0" class="tk"/>
<line x1="282.49" y1="515.6" x2="282.49" y2="517.7" class="tk"/>
<line x1="286.50" y1="726.1" x2="286.50" y2="724.0" class="tk"/>
<line x1="286.50" y1="515.6" x2="286.50" y2="517.7" class="tk"/>
<line x1="290.50" y1="726.1" x2="290.50" y2="724.0" class="tk"/>
<line x1="290.50" y1="515.6" x2="290.50" y2="517.7" class="tk"/>
<line x1="294.51" y1="726.1" x2="294.51" y2="722.2" class="tk"/>
<line x1="294.51" y1="515.6" x2="294.51" y2="519.5" class="tk"/>
<line x1="298.52" y1="726.1" x2="298.52" y2="724.0" class="tk"/>
<line x1="298.52" y1="515.6" x2="298.52" y2="517.7" class="tk"/>
<line x1="302.52" y1="726.1" x2="302.52" y2="724.0" class="tk"/>
<line x1="302.52" y1="515.6" x2="302.52" y2="517.7" class="tk"/>
<line x1="306.53" y1="726.1" x2="306.53" y2="724.0" class="tk"/>
<line x1="306.53" y1="515.6" x2="306.53" y2="517.7" class="tk"/>
<line x1="310.54" y1="726.1" x2="310.54" y2="724.0" class="tk"/>
<line x1="310.54" y1="515.6" x2="310.54" y2="517.7" class="tk"/>
<rect x="33.9" y="515.6" width="279.70000000000005" height="210.5" class="fr"/>
<g clip-path="url(#clipC)">
<path d="M33.90,683.80 L40.16,683.80 L40.16,639.80 L48.29,639.80 L48.29,693.60 L56.43,693.60 L56.43,685.50 L64.56,685.50 L64.56,683.60 L72.70,683.60 L72.70,675.60 L80.84,675.60 L80.84,724.20 L88.97,724.20 L88.97,711.60 L97.11,711.60 L97.11,710.10 L105.24,710.10 L105.24,669.40 L113.38,669.40 L113.38,673.60 L121.52,673.60 L121.52,635.20 L129.65,635.20 L129.65,645.00 L137.79,645.00 L137.79,597.00 L145.92,597.00 L145.92,552.40 L154.06,552.40 L154.06,613.60 L162.20,613.60 L162.20,582.40 L170.33,582.40 L170.33,549.30 L178.47,549.30 L178.47,610.70 L186.60,610.70 L186.60,585.50 L194.74,585.50 L194.74,562.40 L202.88,562.40 L202.88,575.00 L211.01,575.00 L211.01,584.10 L219.15,584.10 L219.15,580.70 L227.28,580.70 L227.28,645.00 L235.42,645.00 L235.42,604.70 L243.56,604.70 L243.56,635.70 L251.69,635.70 L251.69,632.20 L259.83,632.20 L259.83,623.50 L267.96,623.50 L267.96,661.80 L276.10,661.80 L276.10,630.50 L284.24,630.50 L284.24,666.90 L292.37,666.90 L292.37,661.50 L300.51,661.50 L300.51,649.00 L308.64,649.00 L308.64,692.90 L313.60,692.90" fill="none" stroke="#000" stroke-width="1.6" stroke-dasharray="2.7 1.1 1.0 1.2"/>
<path d="M33.90,705.00 L40.16,705.00 L40.16,728.50 L48.29,728.50 L48.29,711.00 L56.43,711.00 L56.43,704.20 L64.56,704.20 L64.56,714.40 L72.70,714.40 L72.70,728.50 L80.84,728.50 L80.84,719.60 L88.97,719.60 L88.97,713.10 L97.11,713.10 L97.11,666.60 L105.24,666.60 L105.24,667.90 L113.38,667.90 L113.38,645.40 L121.52,645.40 L121.52,620.70 L129.65,620.70 L129.65,601.50 L137.79,601.50 L137.79,632.50 L145.92,632.50 L145.92,653.40 L154.06,653.40 L154.06,613.70 L162.20,613.70 L162.20,565.80 L170.33,565.80 L170.33,526.20 L178.47,526.20 L178.47,551.10 L186.60,551.10 L186.60,643.40 L194.74,643.40 L194.74,606.80 L202.88,606.80 L202.88,596.20 L211.01,596.20 L211.01,627.90 L219.15,627.90 L219.15,641.50 L227.28,641.50 L227.28,650.90 L235.42,650.90 L235.42,635.70 L243.56,635.70 L243.56,633.80 L251.69,633.80 L251.69,655.20 L259.83,655.20 L259.83,642.00 L267.96,642.00 L267.96,643.50 L276.10,643.50 L276.10,682.80 L284.24,682.80 L284.24,709.00 L292.37,709.00 L292.37,692.10 L300.51,692.10 L300.51,728.50 L308.64,728.50 L308.64,717.50 L313.60,717.50" fill="none" stroke="#139c48" stroke-width="2"/>
</g>
<text x="17.34" y="211.15" font-size="10.3" textLength="12.84" lengthAdjust="spacingAndGlyphs" fill="#111" stroke="#111" stroke-width="0.15">0.0</text>
<text x="17.34" y="183.95" font-size="10.3" textLength="13.04" lengthAdjust="spacingAndGlyphs" fill="#111" stroke="#111" stroke-width="0.15">0.2</text>
<text x="17.34" y="153.95" font-size="10.3" textLength="12.75" lengthAdjust="spacingAndGlyphs" fill="#111" stroke="#111" stroke-width="0.15">0.4</text>
<text x="17.34" y="123.95" font-size="10.3" textLength="12.94" lengthAdjust="spacingAndGlyphs" fill="#111" stroke="#111" stroke-width="0.15">0.6</text>
<text x="17.34" y="93.95" font-size="10.3" textLength="12.94" lengthAdjust="spacingAndGlyphs" fill="#111" stroke="#111" stroke-width="0.15">0.8</text>
<text x="18.13" y="63.95" font-size="10.3" textLength="12.04" lengthAdjust="spacingAndGlyphs" fill="#111" stroke="#111" stroke-width="0.15">1.0</text>
<text x="18.12" y="33.95" font-size="10.3" textLength="12.23" lengthAdjust="spacingAndGlyphs" fill="#111" stroke="#111" stroke-width="0.15">1.2</text>
<text x="17.34" y="464.85" font-size="10.3" textLength="12.84" lengthAdjust="spacingAndGlyphs" fill="#111" stroke="#111" stroke-width="0.15">0.0</text>
<text x="17.34" y="436.85" font-size="10.3" textLength="13.04" lengthAdjust="spacingAndGlyphs" fill="#111" stroke="#111" stroke-width="0.15">0.2</text>
<text x="17.34" y="408.85" font-size="10.3" textLength="12.75" lengthAdjust="spacingAndGlyphs" fill="#111" stroke="#111" stroke-width="0.15">0.4</text>
<text x="17.34" y="380.85" font-size="10.3" textLength="12.94" lengthAdjust="spacingAndGlyphs" fill="#111" stroke="#111" stroke-width="0.15">0.6</text>
<text x="17.34" y="352.85" font-size="10.3" textLength="12.94" lengthAdjust="spacingAndGlyphs" fill="#111" stroke="#111" stroke-width="0.15">0.8</text>
<text x="18.13" y="324.85" font-size="10.3" textLength="12.04" lengthAdjust="spacingAndGlyphs" fill="#111" stroke="#111" stroke-width="0.15">1.0</text>
<text x="18.12" y="296.85" font-size="10.3" textLength="12.23" lengthAdjust="spacingAndGlyphs" fill="#111" stroke="#111" stroke-width="0.15">1.2</text>
<text x="18.13" y="268.85" font-size="10.3" textLength="11.95" lengthAdjust="spacingAndGlyphs" fill="#111" stroke="#111" stroke-width="0.15">1.4</text>
<text x="18.84" y="725.05" font-size="10.3" textLength="12.84" lengthAdjust="spacingAndGlyphs" fill="#111" stroke="#111" stroke-width="0.15">0.0</text>
<text x="18.84" y="690.75" font-size="10.3" textLength="13.04" lengthAdjust="spacingAndGlyphs" fill="#111" stroke="#111" stroke-width="0.15">0.2</text>
<text x="18.84" y="656.45" font-size="10.3" textLength="12.75" lengthAdjust="spacingAndGlyphs" fill="#111" stroke="#111" stroke-width="0.15">0.4</text>
<text x="18.84" y="622.15" font-size="10.3" textLength="12.94" lengthAdjust="spacingAndGlyphs" fill="#111" stroke="#111" stroke-width="0.15">0.6</text>
<text x="18.84" y="587.85" font-size="10.3" textLength="12.94" lengthAdjust="spacingAndGlyphs" fill="#111" stroke="#111" stroke-width="0.15">0.8</text>
<text x="19.63" y="553.55" font-size="10.3" textLength="12.04" lengthAdjust="spacingAndGlyphs" fill="#111" stroke="#111" stroke-width="0.15">1.0</text>
<text x="19.62" y="519.25" font-size="10.3" textLength="12.23" lengthAdjust="spacingAndGlyphs" fill="#111" stroke="#111" stroke-width="0.15">1.2</text>
<text x="42.82" y="221.00" font-size="10.2" textLength="21.65" lengthAdjust="spacingAndGlyphs" fill="#111" stroke="#111" stroke-width="0.15">3000</text>
<text x="39.52" y="221.00" font-size="10.2" textLength="3.27" lengthAdjust="spacingAndGlyphs" fill="#111" stroke="#111" stroke-width="0.15">-</text>
<text x="82.47" y="221.00" font-size="10.2" textLength="21.75" lengthAdjust="spacingAndGlyphs" fill="#111" stroke="#111" stroke-width="0.15">2000</text>
<text x="79.27" y="221.00" font-size="10.2" textLength="3.27" lengthAdjust="spacingAndGlyphs" fill="#111" stroke="#111" stroke-width="0.15">-</text>
<text x="122.03" y="221.00" font-size="10.2" textLength="21.85" lengthAdjust="spacingAndGlyphs" fill="#111" stroke="#111" stroke-width="0.15">1000</text>
<text x="119.12" y="221.00" font-size="10.2" textLength="3.27" lengthAdjust="spacingAndGlyphs" fill="#111" stroke="#111" stroke-width="0.15">-</text>
<text x="169.88" y="221.00" font-size="10.2" textLength="6.02" lengthAdjust="spacingAndGlyphs" fill="#111" stroke="#111" stroke-width="0.15">0</text>
<text x="201.53" y="221.00" font-size="10.2" textLength="21.85" lengthAdjust="spacingAndGlyphs" fill="#111" stroke="#111" stroke-width="0.15">1000</text>
<text x="241.47" y="221.00" font-size="10.2" textLength="21.75" lengthAdjust="spacingAndGlyphs" fill="#111" stroke="#111" stroke-width="0.15">2000</text>
<text x="281.32" y="221.00" font-size="10.2" textLength="21.65" lengthAdjust="spacingAndGlyphs" fill="#111" stroke="#111" stroke-width="0.15">3000</text>
<text x="42.82" y="479.00" font-size="10.2" textLength="21.65" lengthAdjust="spacingAndGlyphs" fill="#111" stroke="#111" stroke-width="0.15">3000</text>
<text x="39.52" y="479.00" font-size="10.2" textLength="3.27" lengthAdjust="spacingAndGlyphs" fill="#111" stroke="#111" stroke-width="0.15">-</text>
<text x="82.47" y="479.00" font-size="10.2" textLength="21.75" lengthAdjust="spacingAndGlyphs" fill="#111" stroke="#111" stroke-width="0.15">2000</text>
<text x="79.27" y="479.00" font-size="10.2" textLength="3.27" lengthAdjust="spacingAndGlyphs" fill="#111" stroke="#111" stroke-width="0.15">-</text>
<text x="122.03" y="479.00" font-size="10.2" textLength="21.85" lengthAdjust="spacingAndGlyphs" fill="#111" stroke="#111" stroke-width="0.15">1000</text>
<text x="119.12" y="479.00" font-size="10.2" textLength="3.27" lengthAdjust="spacingAndGlyphs" fill="#111" stroke="#111" stroke-width="0.15">-</text>
<text x="169.88" y="479.00" font-size="10.2" textLength="6.02" lengthAdjust="spacingAndGlyphs" fill="#111" stroke="#111" stroke-width="0.15">0</text>
<text x="201.53" y="479.00" font-size="10.2" textLength="21.85" lengthAdjust="spacingAndGlyphs" fill="#111" stroke="#111" stroke-width="0.15">1000</text>
<text x="241.47" y="479.00" font-size="10.2" textLength="21.75" lengthAdjust="spacingAndGlyphs" fill="#111" stroke="#111" stroke-width="0.15">2000</text>
<text x="281.32" y="479.00" font-size="10.2" textLength="21.65" lengthAdjust="spacingAndGlyphs" fill="#111" stroke="#111" stroke-width="0.15">3000</text>
<text x="43.26" y="736.90" font-size="10.2" textLength="21.65" lengthAdjust="spacingAndGlyphs" fill="#111" stroke="#111" stroke-width="0.15">3000</text>
<text x="39.96" y="736.90" font-size="10.2" textLength="3.27" lengthAdjust="spacingAndGlyphs" fill="#111" stroke="#111" stroke-width="0.15">-</text>
<text x="83.23" y="736.90" font-size="10.2" textLength="21.75" lengthAdjust="spacingAndGlyphs" fill="#111" stroke="#111" stroke-width="0.15">2000</text>
<text x="80.03" y="736.90" font-size="10.2" textLength="3.27" lengthAdjust="spacingAndGlyphs" fill="#111" stroke="#111" stroke-width="0.15">-</text>
<text x="123.11" y="736.90" font-size="10.2" textLength="21.85" lengthAdjust="spacingAndGlyphs" fill="#111" stroke="#111" stroke-width="0.15">1000</text>
<text x="120.20" y="736.90" font-size="10.2" textLength="3.27" lengthAdjust="spacingAndGlyphs" fill="#111" stroke="#111" stroke-width="0.15">-</text>
<text x="171.28" y="736.90" font-size="10.2" textLength="6.02" lengthAdjust="spacingAndGlyphs" fill="#111" stroke="#111" stroke-width="0.15">0</text>
<text x="203.25" y="736.90" font-size="10.2" textLength="21.85" lengthAdjust="spacingAndGlyphs" fill="#111" stroke="#111" stroke-width="0.15">1000</text>
<text x="243.51" y="736.90" font-size="10.2" textLength="21.75" lengthAdjust="spacingAndGlyphs" fill="#111" stroke="#111" stroke-width="0.15">2000</text>
<text x="283.68" y="736.90" font-size="10.2" textLength="21.65" lengthAdjust="spacingAndGlyphs" fill="#111" stroke="#111" stroke-width="0.15">3000</text>
<text x="54.89" y="235.2" font-size="13.2" textLength="243.94" lengthAdjust="spacingAndGlyphs" fill="#111" stroke="#111" stroke-width="0.25">Projected Distance from the Nucleus [km]</text>
<text x="54.49" y="493.0" font-size="13.2" textLength="244.04" lengthAdjust="spacingAndGlyphs" fill="#111" stroke="#111" stroke-width="0.25">Projected Distance from the Nucleus [km]</text>
<text x="55.19" y="750.2" font-size="13.2" textLength="244.24" lengthAdjust="spacingAndGlyphs" fill="#111" stroke="#111" stroke-width="0.25">Projected Distance from the Nucleus [km]</text>
<text x="55.28" y="32.2" font-size="13.6" textLength="18.05" lengthAdjust="spacingAndGlyphs" fill="#111" stroke="#111" stroke-width="0.25">CO</text>
<text x="76.12" y="32.2" font-size="13.6" textLength="19.19" lengthAdjust="spacingAndGlyphs" fill="#111" stroke="#111" stroke-width="0.25">(R1)</text>
<text x="55.01" y="54.7" font-size="13.6" textLength="16.57" lengthAdjust="spacingAndGlyphs" fill="#ed1c24" stroke="#ed1c24" stroke-width="0.25">CH</text>
<text x="70.80" y="59.3" font-size="8.0" fill="#ed1c24" stroke="#ed1c24" stroke-width="0.15">4</text>
<text x="78.04" y="54.7" font-size="13.6" textLength="21.96" lengthAdjust="spacingAndGlyphs" fill="#ed1c24" stroke="#ed1c24" stroke-width="0.25">(R0)</text>
<text x="51.28" y="285.8" font-size="13.6" textLength="18.05" lengthAdjust="spacingAndGlyphs" fill="#111" stroke="#111" stroke-width="0.25">CO</text>
<text x="72.09" y="285.8" font-size="13.6" textLength="19.51" lengthAdjust="spacingAndGlyphs" fill="#111" stroke="#111" stroke-width="0.25">(P1)</text>
<text x="52.32" y="308.0" font-size="13.6" textLength="8.11" lengthAdjust="spacingAndGlyphs" fill="#2d4ca8" stroke="#2d4ca8" stroke-width="0.25">C</text>
<text x="59.70" y="312.6" font-size="8.0" fill="#2d4ca8" stroke="#2d4ca8" stroke-width="0.15">2</text>
<text x="64.20" y="308.0" font-size="13.6" textLength="8.92" lengthAdjust="spacingAndGlyphs" fill="#2d4ca8" stroke="#2d4ca8" stroke-width="0.25">H</text>
<text x="72.50" y="312.6" font-size="8.0" fill="#2d4ca8" stroke="#2d4ca8" stroke-width="0.15">6</text>
<text x="46.59" y="323.9" font-size="10.0" textLength="67.86" lengthAdjust="spacingAndGlyphs" fill="#2d4ca8" stroke="#2d4ca8" stroke-width="0.25">(3 Q-branches)</text>
<text x="49.28" y="542.3" font-size="13.6" textLength="18.05" lengthAdjust="spacingAndGlyphs" fill="#111" stroke="#111" stroke-width="0.25">CO</text>
<text x="70.07" y="542.3" font-size="13.6" textLength="20.79" lengthAdjust="spacingAndGlyphs" fill="#111" stroke="#111" stroke-width="0.25">(R2)</text>
<text x="49.28" y="584.3" font-size="13.6" textLength="18.05" lengthAdjust="spacingAndGlyphs" fill="#139c48" stroke="#139c48" stroke-width="0.25">CO</text>
<text x="70.07" y="584.3" font-size="13.6" textLength="20.79" lengthAdjust="spacingAndGlyphs" fill="#139c48" stroke="#139c48" stroke-width="0.25">(R3)</text>
<text x="275.30" y="33.7" font-size="26.0" textLength="14.13" lengthAdjust="spacingAndGlyphs" fill="#000" stroke="#000" stroke-width="0.45">A</text>
<text x="274.19" y="291.7" font-size="26.0" textLength="14.10" lengthAdjust="spacingAndGlyphs" fill="#000" stroke="#000" stroke-width="0.45">B</text>
<text x="278.04" y="545.8" font-size="26.0" textLength="15.25" lengthAdjust="spacingAndGlyphs" fill="#000" stroke="#000" stroke-width="0.45">C</text>
<text x="0" y="0" transform="translate(11.6,192.90) rotate(-90)" font-size="14.8" textLength="171.07" lengthAdjust="spacingAndGlyphs" fill="#111" stroke="#111" stroke-width="0.2">Normalized Emission Flux</text>
<text x="0" y="0" transform="translate(11.6,453.39) rotate(-90)" font-size="14.8" textLength="170.26" lengthAdjust="spacingAndGlyphs" fill="#111" stroke="#111" stroke-width="0.2">Normalized Emission Flux</text>
<text x="0" y="0" transform="translate(14.2,709.01) rotate(-90)" font-size="14.8" textLength="171.97" lengthAdjust="spacingAndGlyphs" fill="#111" stroke="#111" stroke-width="0.2">Normalized Emission Flux</text>
<line x1="109.8" y1="18.7" x2="109.8" y2="34" stroke="#000" stroke-width="1.6"/>
<line x1="109.8" y1="45.5" x2="109.8" y2="54.6" stroke="#ed1c24" stroke-width="1.5"/>
<line x1="105.4" y1="271.3" x2="105.4" y2="285.3" stroke="#000" stroke-width="1.6"/>
<line x1="105.4" y1="291.3" x2="105.4" y2="309.1" stroke="#2d4ca8" stroke-width="1.5"/>
<line x1="99.9" y1="522.3" x2="99.9" y2="547" stroke="#222" stroke-width="1.7"/>
<line x1="99.9" y1="562.3" x2="99.9" y2="600" stroke="#139c48" stroke-width="1.7"/>
</svg></body></html>
